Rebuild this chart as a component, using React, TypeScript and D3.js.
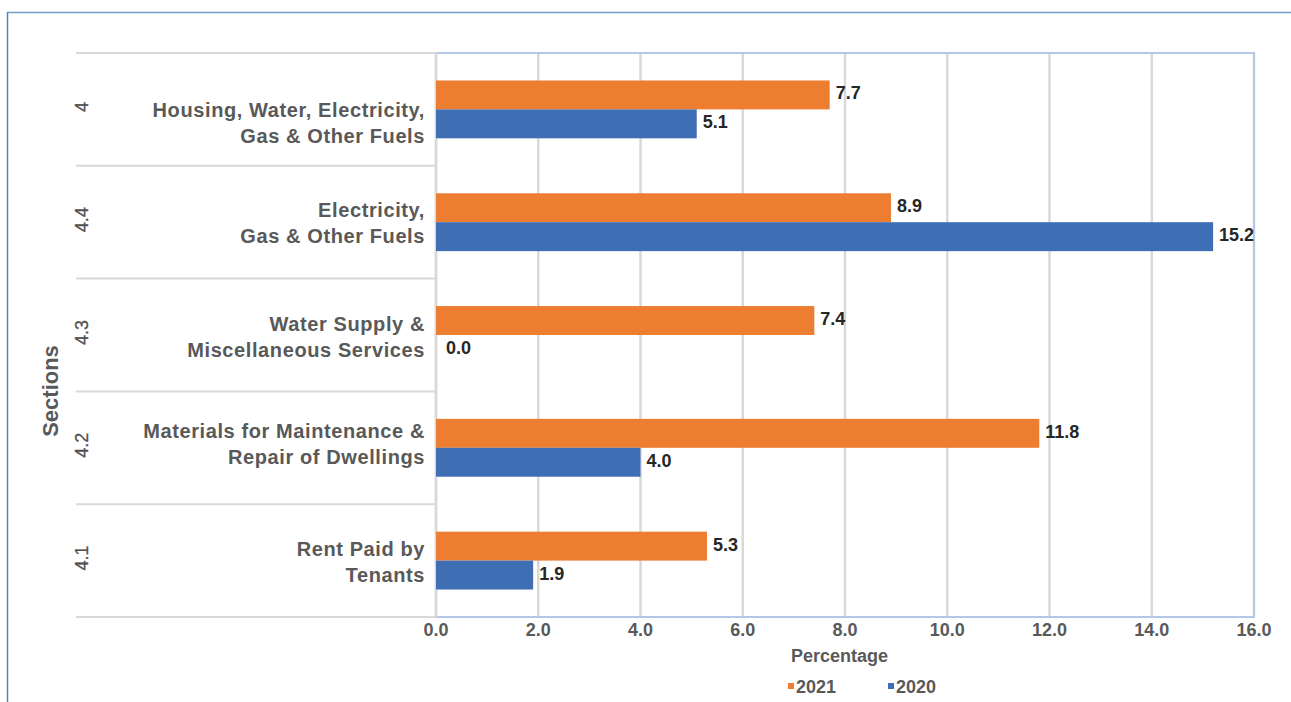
import React from "react";
import * as d3 from "d3";

// Section codes and names, top to bottom
const sectionCodes = ["4", "4.4", "4.3", "4.2", "4.1"];
const sectionNames: string[][] = [
  ["Housing, Water, Electricity,", "Gas & Other Fuels"],
  ["Electricity,", "Gas & Other Fuels"],
  ["Water Supply &", "Miscellaneous Services"],
  ["Materials for Maintenance &", "Repair of Dwellings"],
  ["Rent Paid by", "Tenants"],
];
const seriesNames = ["2021", "2020"];
const values2021 = [7.7, 8.9, 7.4, 11.8, 5.3];
const values2020 = [5.1, 15.2, 0.0, 4.0, 1.9];
const xTicks = [0, 2, 4, 6, 8, 10, 12, 14, 16];
const seriesColors = ["#ED7D31", "#3F6EB5"];

// per-row vertical nudge of the two-line category labels (px)
const labelNudge = [13, 0, 1, -5, 0];

const W = 1291;
const H = 702;
const plot = { left: 436, right: 1254, top: 53, bottom: 617 };
const FONT = "'Liberation Sans', Arial, Helvetica, sans-serif";
const GREY_TEXT = "#595959";

export default function App() {
  const x = d3.scaleLinear().domain([0, 16]).range([plot.left, plot.right]);
  const y = d3
    .scaleBand<string>()
    .domain(sectionCodes)
    .range([plot.top, plot.bottom])
    .padding(0);
  const ySeries = d3
    .scaleBand<string>()
    .domain(seriesNames)
    .range([0, y.bandwidth()])
    .paddingInner(0)
    .paddingOuter(0.95);
  const seriesValues = [values2021, values2020];

  const dividers = sectionCodes.map((c) => y(c) as number).concat([plot.bottom]);

  return (
    <svg
      width={W}
      height={H}
      style={{ position: "absolute", left: 0, top: 0, background: "#fff" }}
      fontFamily={FONT}
    >
      {/* outer frame */}
      <line x1={7} x2={W} y1={12.5} y2={12.5} stroke="#6f9dcc" strokeWidth={1.5} />
      <line x1={7.5} x2={7.5} y1={12} y2={H} stroke="#4d86c2" strokeWidth={1.5} />

      {/* vertical gridlines */}
      {xTicks.map((t) => (
        <line
          key={"g" + t}
          x1={x(t)}
          x2={x(t)}
          y1={plot.top}
          y2={plot.bottom}
          stroke="#d9d9d9"
          strokeWidth={2.5}
        />
      ))}

      {/* plot border (top, right, bottom) */}
      <path
        d={`M${plot.left},${plot.top}H${plot.right}V${plot.bottom}H${plot.left}`}
        fill="none"
        stroke="#b4c7e7"
        strokeWidth={2}
      />

      {/* category dividers */}
      {dividers.map((d, i) => (
        <line
          key={"d" + i}
          x1={76}
          x2={plot.left}
          y1={d}
          y2={d}
          stroke="#d9d9d9"
          strokeWidth={2}
        />
      ))}
      <line
        x1={plot.left}
        x2={plot.left}
        y1={plot.top}
        y2={plot.bottom}
        stroke="#d9d9d9"
        strokeWidth={2.5}
      />

      {/* bars with value labels */}
      {sectionCodes.map((code, i) =>
        seriesNames.map((s, j) => {
          const v = seriesValues[j][i];
          const by = (y(code) as number) + (ySeries(s) as number);
          return (
            <g key={code + s}>
              <rect
                x={x(0)}
                y={by}
                width={x(v) - x(0)}
                height={ySeries.bandwidth()}
                fill={seriesColors[j]}
              />
              <text
                x={x(v) + (v === 0 ? 10 : 6)}
                y={by + ySeries.bandwidth() / 2 + 4.5}
                fontSize={18}
                fontWeight="bold"
                fill="#262626"
              >
                {v.toFixed(1)}
              </text>
            </g>
          );
        })
      )}

      {/* category labels */}
      {sectionCodes.map((code, i) => {
        const cy = (y(code) as number) + y.bandwidth() / 2;
        const ly = cy + labelNudge[i];
        return (
          <g key={"l" + code}>
            <text
              textAnchor="end"
              fontSize={20}
              fontWeight="bold"
              fill={GREY_TEXT}
              letterSpacing={0.6}
            >
              <tspan x={425} y={ly - 5}>
                {sectionNames[i][0]}
              </tspan>
              <tspan x={425} y={ly + 21}>
                {sectionNames[i][1]}
              </tspan>
            </text>
            <text
              transform={`translate(${88},${cy - 2.5}) rotate(-90)`}
              textAnchor="middle"
              fontSize={18}
              fill="#505050"
              stroke="#505050"
              strokeWidth={0.3}
            >
              {code}
            </text>
          </g>
        );
      })}

      {/* axis title: Sections */}
      <text
        transform={`translate(${58},${391}) rotate(-90)`}
        textAnchor="middle"
        fontSize={22}
        fontWeight="bold"
        fill={GREY_TEXT}
      >
        Sections
      </text>

      {/* x tick labels */}
      {xTicks.map((t) => (
        <text
          key={"t" + t}
          x={x(t)}
          y={636}
          textAnchor="middle"
          fontSize={18}
          fontWeight="bold"
          fill={GREY_TEXT}
        >
          {t.toFixed(1)}
        </text>
      ))}

      {/* x axis title */}
      <text
        x={839.5}
        y={662}
        textAnchor="middle"
        fontSize={18}
        fontWeight="bold"
        fill={GREY_TEXT}
      >
        Percentage
      </text>

      {/* legend */}
      {seriesNames.map((s, j) => {
        const lx = j === 0 ? 788 : 888;
        return (
          <g key={"lg" + s}>
            <rect x={lx} y={683} width={6} height={6} fill={seriesColors[j]} />
            <text
              x={lx + 8}
              y={693}
              fontSize={18}
              fontWeight="bold"
              fill={GREY_TEXT}
            >
              {s}
            </text>
          </g>
        );
      })}
    </svg>
  );
}
